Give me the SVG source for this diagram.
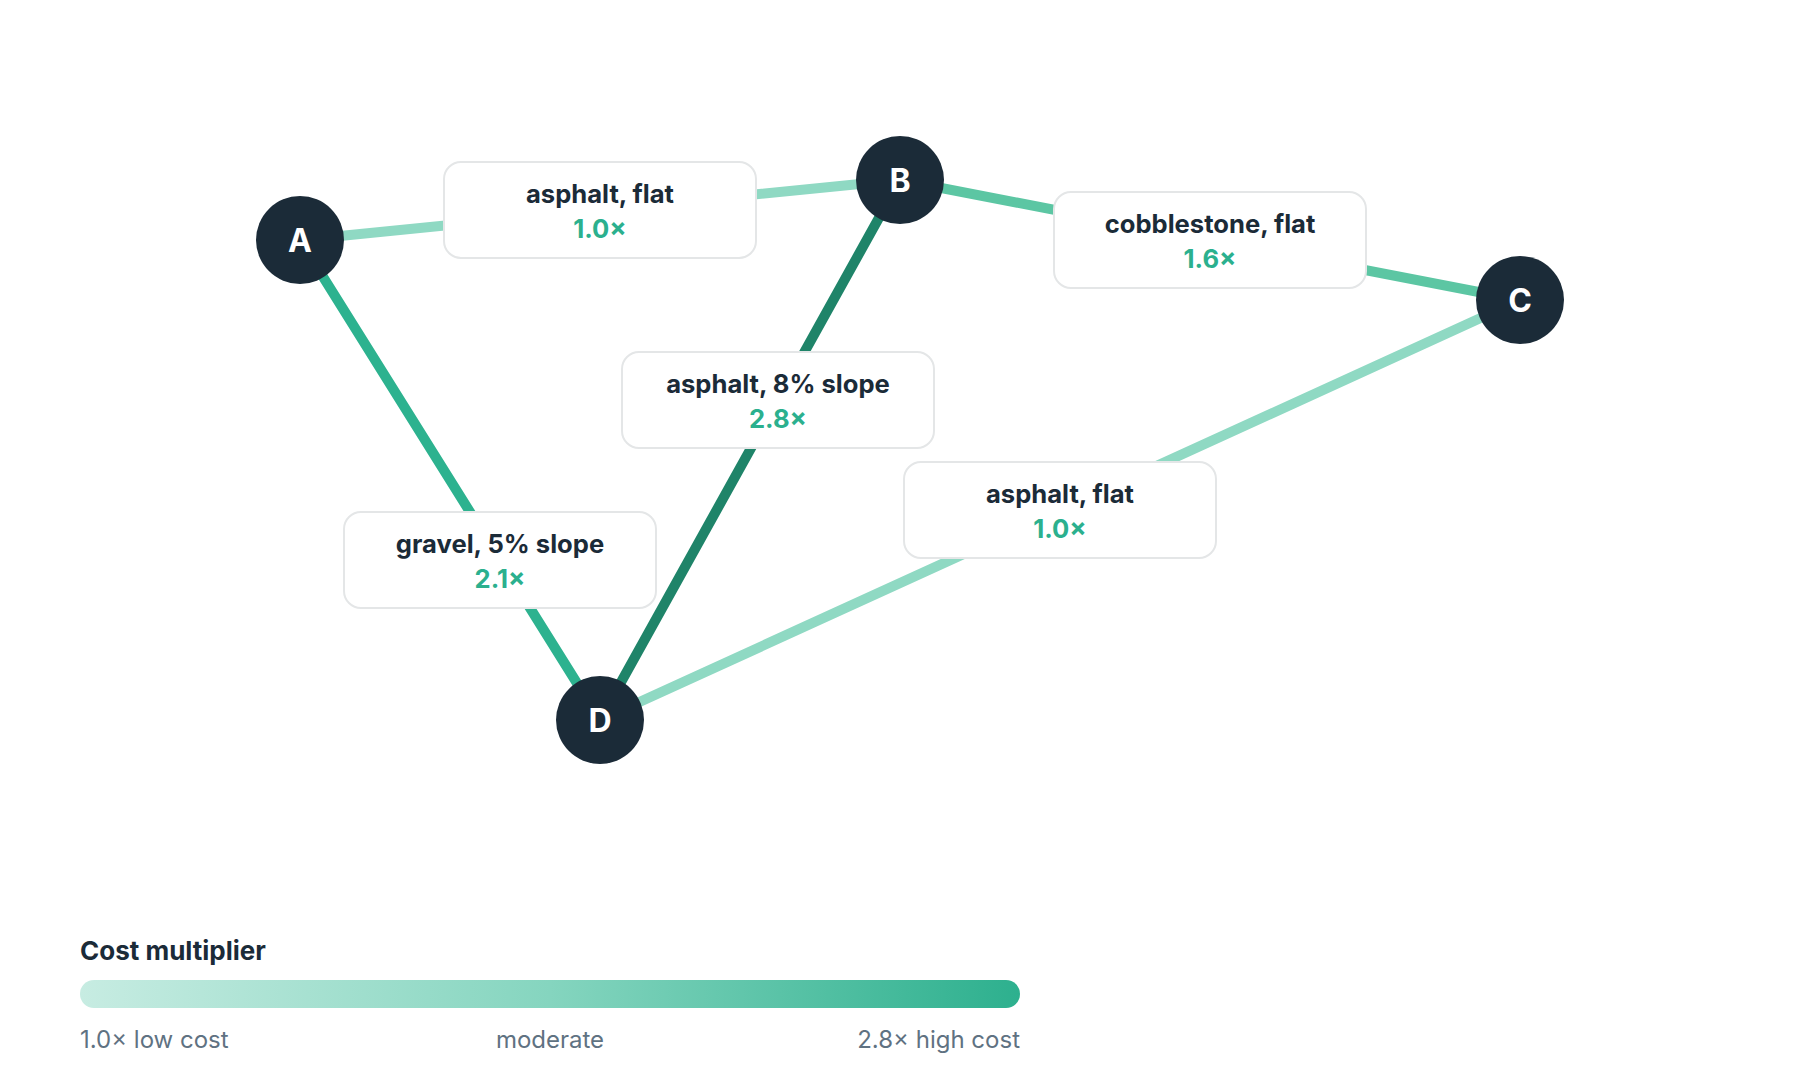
<svg xmlns="http://www.w3.org/2000/svg" width="1800" height="1090" viewBox="0 0 1800 1090">
<style>
.edge{fill:none;stroke-width:10;stroke-linecap:round}
.c10{stroke:#8fd9c3}
.c16{stroke:#5cc6a3}
.c21{stroke:#2db28f}
.c28{stroke:#1f8469}
.node circle{fill:#1b2b38}
.node text{fill:#ffffff;font-family:Inter,"Liberation Sans",sans-serif;font-weight:700;font-size:32px;text-anchor:middle}
.lbl rect{fill:#ffffff;stroke:#e4e6e7;stroke-width:2}
.lbl .t{fill:#1b2b38;font-family:Inter,"Liberation Sans",sans-serif;font-weight:700;font-size:25.6px;text-anchor:middle}
.lbl .v{fill:#2bb08e;font-family:Inter,"Liberation Sans",sans-serif;font-weight:700;font-size:25.6px;text-anchor:middle}
.lg{font-family:Inter,"Liberation Sans",sans-serif}
.lgh{fill:#1b2b38;font-weight:700;font-size:26px}
.lgs{fill:#5f7282;font-size:24px}
</style>
<defs>
<linearGradient id="grad" x1="0" y1="0" x2="1" y2="0">
<stop offset="0" stop-color="#c7ece2"/>
<stop offset="0.5" stop-color="#85d5bf"/>
<stop offset="1" stop-color="#2db08e"/>
</linearGradient>
</defs>
<rect width="1800" height="1090" fill="#ffffff"/>
<g id="connectors">
<line class="edge c10" x1="300" y1="240" x2="900" y2="180"/>
<line class="edge c16" x1="900" y1="180" x2="1520" y2="300"/>
<line class="edge c21" x1="300" y1="240" x2="600" y2="720"/>
<line class="edge c28" x1="900" y1="180" x2="600" y2="720"/>
<line class="edge c10" x1="1520" y1="300" x2="600" y2="720"/>
</g>
<g id="labels">
<g id="label-ab" class="lbl">
<rect x="444" y="162" width="312" height="96" rx="17"/>
<text class="t" x="600" y="202.5">asphalt, flat</text>
<text class="v" x="600" y="238">1.0×</text>
</g>
<g id="label-bc" class="lbl">
<rect x="1054" y="192" width="312" height="96" rx="17"/>
<text class="t" x="1210" y="232.5">cobblestone, flat</text>
<text class="v" x="1210" y="268">1.6×</text>
</g>
<g id="label-bd" class="lbl">
<rect x="622" y="352" width="312" height="96" rx="17"/>
<text class="t" x="778" y="392.5">asphalt, 8% slope</text>
<text class="v" x="778" y="428">2.8×</text>
</g>
<g id="label-ad" class="lbl">
<rect x="344" y="512" width="312" height="96" rx="17"/>
<text class="t" x="500" y="552.5">gravel, 5% slope</text>
<text class="v" x="500" y="588">2.1×</text>
</g>
<g id="label-cd" class="lbl">
<rect x="904" y="462" width="312" height="96" rx="17"/>
<text class="t" x="1060" y="502.5">asphalt, flat</text>
<text class="v" x="1060" y="538">1.0×</text>
</g>
</g>
<g id="node-A" class="node"><circle cx="300" cy="240" r="44"/><text x="300" y="251.5">A</text></g>
<g id="node-B" class="node"><circle cx="900" cy="180" r="44"/><text x="900" y="191.5">B</text></g>
<g id="node-C" class="node"><circle cx="1520" cy="300" r="44"/><text x="1520" y="311.5">C</text></g>
<g id="node-D" class="node"><circle cx="600" cy="720" r="44"/><text x="600" y="731.5">D</text></g>
<g id="legend" class="lg">
<text class="lgh" x="80" y="960">Cost multiplier</text>
<rect x="80" y="980" width="940" height="28" rx="14" fill="url(#grad)"/>
<text class="lgs" x="80" y="1047.5">1.0× low cost</text>
<text class="lgs" x="550" y="1047.5" text-anchor="middle">moderate</text>
<text class="lgs" x="1020" y="1047.5" text-anchor="end">2.8× high cost</text>
</g>
</svg>
